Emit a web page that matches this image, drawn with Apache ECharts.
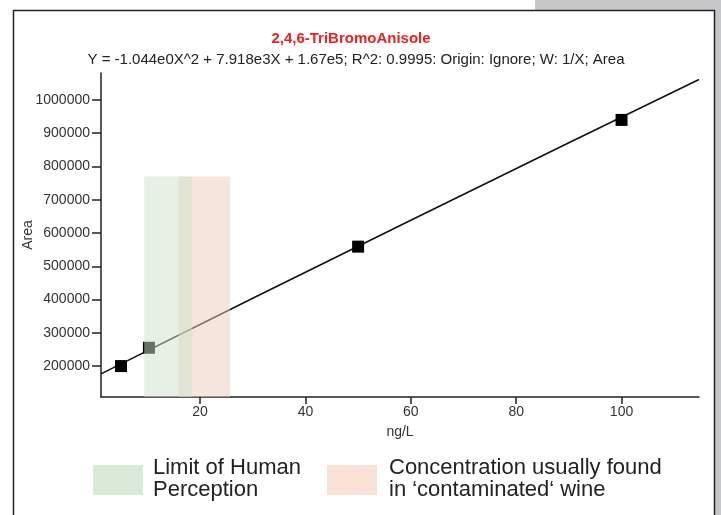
<!DOCTYPE html>
<html>
<head>
<meta charset="utf-8">
<script src="https://cdn.jsdelivr.net/npm/echarts@6/dist/echarts.min.js"></script>
<style>
html,body{margin:0;padding:0;background:#fff;}
#chart{width:721px;height:515px;}
</style>
</head>
<body>
<div id="chart"></div>
<script>
// ---- Data ----
var titleText = '2,4,6-TriBromoAnisole';
var subtitleText = 'Y = -1.044e0X^2 + 7.918e3X + 1.67e5; R^2: 0.9995: Origin: Ignore; W: 1/X; Area';
var xName = 'ng/L';
var yName = 'Area';
var pointX = [5, 10.3, 50, 100];
var pointY = [200000, 255000, 559000, 940000];
var fitX = [1.2, 30, 60, 90, 114.7];
var fitY = [176500, 403600, 638300, 871200, 1061400];
var xTicks = [20, 40, 60, 80, 100];
var yTicks = [200000, 300000, 400000, 500000, 600000, 700000, 800000, 900000, 1000000];
var xRange = [1.2, 114.7];
var yRange = [107000, 1081000];
var perceptionRange = [9.4, 18.5];
var contaminatedRange = [15.9, 25.7];
var shadeTop = 770000;
var legendPerception = 'Limit of Human\nPerception';
var legendContaminated = 'Concentration usually found\nin \u2018contaminated\u2018 wine';

function zip(a, b) { return a.map(function (v, i) { return [v, b[i]]; }); }

var FONT = '"Liberation Sans", Arial, sans-serif';
var chart = echarts.init(document.getElementById('chart'));
chart.setOption({
  animation: false,
  backgroundColor: '#ffffff',
  title: [
    { text: titleText, left: 346, top: 26, textAlign: 'center',
      textStyle: { color: '#e8231f', fontSize: 15, fontWeight: 'bold', fontFamily: FONT } },
    { text: subtitleText, left: 351, top: 47, textAlign: 'center',
      textStyle: { color: '#222', fontSize: 15, fontWeight: 'normal', fontFamily: FONT } }
  ],
  grid: { left: 101, right: 22, top: 73, bottom: 118, containLabel: false },
  xAxis: {
    type: 'value', min: xRange[0], max: xRange[1],
    name: xName, nameLocation: 'middle', nameGap: 28, nameMoveOverlap: false,
    nameTextStyle: { color: '#333', fontSize: 14, fontFamily: FONT },
    axisLine: { lineStyle: { color: '#222', width: 1.5 } },
    axisTick: { show: true, length: 7, customValues: xTicks, lineStyle: { color: '#222', width: 1.5 } },
    axisLabel: { customValues: xTicks, color: '#333', fontSize: 14, fontFamily: FONT, margin: 8,
      formatter: function (v) { return String(v); } },
    splitLine: { show: false }
  },
  yAxis: {
    type: 'value', min: yRange[0], max: yRange[1],
    name: yName, nameLocation: 'middle', nameGap: 66, nameRotate: 90, nameMoveOverlap: false,
    nameTextStyle: { color: '#333', fontSize: 14, fontFamily: FONT },
    axisLine: { show: true, lineStyle: { color: '#222', width: 1.5 } },
    axisTick: { show: true, length: 9, customValues: yTicks, lineStyle: { color: '#222', width: 1.5 } },
    axisLabel: { customValues: yTicks, color: '#333', fontSize: 14, fontFamily: FONT, margin: 11,
      formatter: function (v) { return String(v); } },
    splitLine: { show: false }
  },
  series: [
    {
      type: 'line', data: zip(fitX, fitY), symbol: 'none', smooth: false,
      lineStyle: { color: '#111', width: 1.6 }, z: 2
    },
    {
      type: 'scatter', data: zip(pointX, pointY), symbol: 'rect', symbolSize: 12,
      itemStyle: { color: '#000', opacity: 1 }, z: 3
    },
    {
      type: 'line', data: [], z: 5,
      markArea: {
        silent: true, z: 10,
        itemStyle: { color: 'rgba(235,203,185,0.5)' },
        data: [[{ xAxis: contaminatedRange[0], yAxis: shadeTop }, { xAxis: contaminatedRange[1], yAxis: yRange[0] }]]
      }
    },
    {
      type: 'line', data: [], z: 6,
      markArea: {
        silent: true, z: 11,
        itemStyle: { color: 'rgba(206,225,202,0.5)' },
        data: [[{ xAxis: perceptionRange[0], yAxis: shadeTop }, { xAxis: perceptionRange[1], yAxis: yRange[0] }]]
      }
    }
  ],
  graphic: [
    { type: 'rect', shape: { x: 535, y: 0, width: 186, height: 10 }, style: { fill: '#c6c7c8' }, silent: true },
    { type: 'rect', shape: { x: 715, y: 0, width: 6, height: 515 }, style: { fill: '#c6c7c8' }, silent: true },
    { type: 'rect', shape: { x: 13.5, y: 10.5, width: 701, height: 520 }, style: { fill: null, stroke: '#222', lineWidth: 1.5 }, silent: true },
    { type: 'rect', shape: { x: 93, y: 465, width: 50, height: 30 }, style: { fill: '#d9ebd8' }, silent: true },
    { type: 'text', x: 153, y: 457, style: { text: legendPerception, fill: '#222', fontSize: 22, lineHeight: 22, fontFamily: FONT } },
    { type: 'rect', shape: { x: 327, y: 465, width: 50, height: 30 }, style: { fill: '#f8e1d5' }, silent: true },
    { type: 'text', x: 389, y: 457, style: { text: legendContaminated, fill: '#222', fontSize: 22, lineHeight: 22, fontFamily: FONT } }
  ]
});
</script>
</body>
</html>
